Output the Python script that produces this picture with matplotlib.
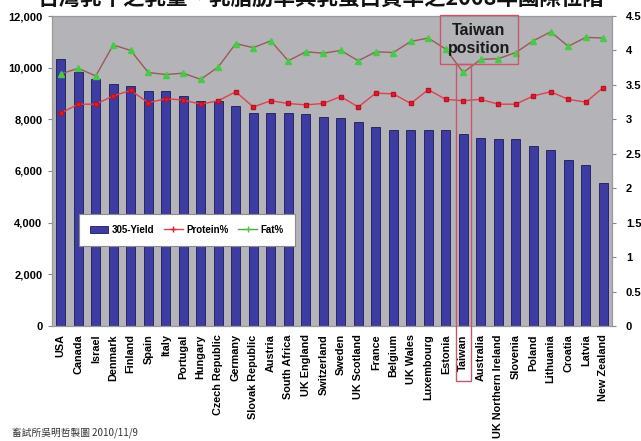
import matplotlib
matplotlib.use("Agg")
import matplotlib.pyplot as plt
from matplotlib.patches import Rectangle
from matplotlib.lines import Line2D
from matplotlib.transforms import blended_transform_factory

plt.rcParams['font.family'] = ['Liberation Sans', 'Noto Sans CJK TC', 'DejaVu Sans']

countries = ["USA", "Canada", "Israel", "Denmark", "Finland", "Spain", "Italy",
             "Portugal", "Hungary", "Czech Republic", "Germany", "Slovak Republic",
             "Austria", "South Africa", "UK England", "Switzerland", "Sweden",
             "UK Scotland", "France", "Belgium", "UK Wales", "Luxembourg", "Estonia",
             "Taiwan", "Australia", "UK Northern Ireland", "Slovenia", "Poland",
             "Lithuania", "Croatia", "Latvia", "New Zealand"]

yield_305 = [10350, 9850, 9580, 9350, 9300, 9080, 9080, 8900, 8700, 8700, 8500,
             8250, 8230, 8230, 8200, 8100, 8050, 7900, 7700, 7600, 7600, 7600,
             7600, 7450, 7280, 7250, 7250, 6950, 6800, 6430, 6250, 5550]

protein_pct = [3.09, 3.22, 3.22, 3.34, 3.42, 3.24, 3.30, 3.28, 3.22, 3.27, 3.40,
               3.18, 3.27, 3.23, 3.21, 3.23, 3.33, 3.18, 3.38, 3.37, 3.23, 3.43,
               3.29, 3.27, 3.29, 3.22, 3.22, 3.34, 3.40, 3.29, 3.25, 3.46]

fat_pct = [3.66, 3.74, 3.63, 4.08, 4.00, 3.68, 3.65, 3.67, 3.58, 3.76, 4.10,
           4.04, 4.14, 3.85, 3.98, 3.96, 4.00, 3.85, 3.98, 3.97, 4.13, 4.18,
           4.02, 3.68, 3.87, 3.88, 3.97, 4.14, 4.27, 4.06, 4.19, 4.18]

left_ticks = [0, 2000, 4000, 6000, 8000, 10000, 12000]
right_ticks = [0, 0.5, 1, 1.5, 2, 2.5, 3, 3.5, 4, 4.5]
right_labels = ["0", "0.5", "1", "1.5", "2", "2.5", "3", "3.5", "4", "4.5"]

title = "台灣乳牛之乳量、乳脂肪率與乳蛋白質率之2008年國際位階"
footnote = "畜試所吳明哲製圖 2010/11/9"
highlight = "Taiwan"

fig = plt.figure(figsize=(6.41, 4.41), dpi=100)
ax = fig.add_axes([52 / 641, 1 - 326 / 441, 560 / 641, 310 / 441])
ax.set_facecolor('#b4b4b8')

x = list(range(len(countries)))
ax.bar(x, yield_305, width=0.52, color='#3c3ca2', edgecolor='#1c1c55',
       linewidth=0.6, zorder=2)
ax.set_xlim(-0.5, len(countries) - 0.5)
ax.set_ylim(0, 12000)
ax.set_yticks(left_ticks)
ax.set_yticklabels([f"{v:,}" for v in left_ticks], fontsize=8, fontweight='bold')
ax.set_xticks(x)
ax.set_xticklabels(countries, rotation=90, fontsize=7.8, fontweight='bold')
ax.tick_params(axis='x', length=0, pad=6)
ax.tick_params(axis='y', length=3, color='#888888', pad=4)
for s in ax.spines.values():
    s.set_color('#9a9a9a')
    s.set_linewidth(0.8)

ax2 = ax.twinx()
ax2.set_ylim(0, 4.5)
ax2.set_yticks(right_ticks)
ax2.set_yticklabels(right_labels, fontsize=8, fontweight='bold')
ax2.tick_params(axis='y', length=3, color='#888888', pad=7)
for s in ax2.spines.values():
    s.set_color('#9a9a9a')
    s.set_linewidth(0.8)

ax2.plot(x, protein_pct, color='#e0404c', linewidth=1.0, marker='s',
         markersize=2.6, markerfacecolor='#e0202e', markeredgecolor='#c01020', zorder=3)
ax2.plot(x, fat_pct, color='#9a5a58', linewidth=1.0, marker='^',
         markersize=4, markerfacecolor='#44cc44', markeredgecolor='#44cc44', zorder=3)

# legend
handles = [Rectangle((0, 0), 1, 1, facecolor='#3c3ca2', edgecolor='#1c1c55', linewidth=0.6),
           Line2D([], [], color='#e0404c', linewidth=1.0, marker='+', markersize=4,
                  markeredgecolor='#e0202e'),
           Line2D([], [], color='#44aa44', linewidth=1.0, marker='+', markersize=4,
                  markeredgecolor='#44cc44')]
leg = ax2.legend(handles, ["305-Yield", "Protein%", "Fat%"], ncol=3,
                 loc='center left', bbox_to_anchor=(0.048, 0.31),
                 fancybox=False, framealpha=1, edgecolor='#8a8a8a',
                 prop={'size': 7, 'weight': 'bold'}, handlelength=1.9,
                 handleheight=0.8, columnspacing=1.0, handletextpad=0.4,
                 borderpad=1.1, borderaxespad=0)
leg.get_frame().set_linewidth(0.8)

# highlighted column
ti = countries.index(highlight)
trans = blended_transform_factory(ax2.transData, ax2.transAxes)
box_col = '#c45a68'
ax2.add_patch(Rectangle((ti - 0.42, -0.178), 0.84, 0.845 + 0.178, transform=trans,
                        fill=False, edgecolor=box_col, linewidth=1.0, clip_on=False,
                        zorder=5))
ax2.add_patch(Rectangle((ti - 1.34, 0.845), 4.45, 0.158, transform=trans,
                        fill=False, edgecolor=box_col, linewidth=1.0, clip_on=False,
                        zorder=5))
ax2.text(ti + 0.88, 0.924, "Taiwan\nposition", transform=trans, ha='center',
         va='center', fontsize=11.5, fontweight='bold', color='#1a1a1a',
         linespacing=1.25, zorder=6)

fig.text(0.5, 1.0 + 1.0 / 441, title, ha='center', va='center', fontsize=15.5,
         fontweight='bold', color='#111111',
         family=['Noto Sans CJK TC', 'DejaVu Sans'])
fig.text(12 / 641, 1 - 433 / 441, footnote, ha='left', va='center', fontsize=7,
         color='#333333', family=['Noto Sans CJK TC', 'DejaVu Sans'])

fig.savefig("out.png", dpi=100, facecolor='white')
